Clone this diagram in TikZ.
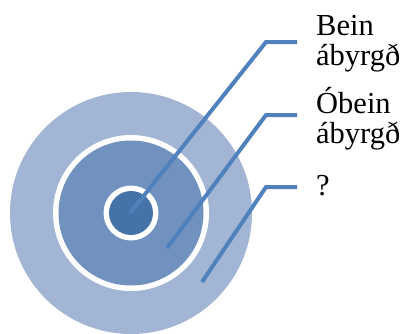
\documentclass[tikz,border=0pt]{standalone}
\usepackage{fontspec}
\setmainfont{Liberation Serif}
\usepackage{xcolor}
\usepackage{tikz}
\usetikzlibrary{positioning, arrows.meta, shapes}

\definecolor{ringout}{RGB}{163,181,212}
\definecolor{ringmid}{RGB}{113,146,191}
\definecolor{ringcore}{RGB}{69,114,168}
\definecolor{leader}{RGB}{79,129,189}

\begin{document}
\begin{tikzpicture}[
    x=1pt, y=-1pt,
    disc/.style={circle, draw=none, inner sep=0pt},
    leaderline/.style={draw=leader, line width=4pt},
    label/.style={font=\fontsize{30.5}{29.5}\selectfont, align=left, anchor=base west, inner sep=0pt}
]
\useasboundingbox (0,0) rectangle (404,333);

% target circles
\node[disc, fill=ringout, minimum size=242pt] (outer) at (131,213) {};
\node[disc, fill=white, minimum size=156pt] (gap1) at (131,213) {};
\node[disc, fill=ringmid, minimum size=145pt] (mid) at (131,213) {};
\node[disc, fill=white, minimum size=55pt] (gap2) at (131,213) {};
\node[disc, fill=ringcore, minimum size=44pt] (core) at (131,213) {};

% labels (anchored at the baseline of their last line)
\node[label] (direct) at (316,65) {Bein\\ábyrgð};
\node[label] (indirect) at (316,143) {Óbein\\ábyrgð};
\node[label] (unknown) at (316,195) {?};

% leader lines
\coordinate (s1) at (130,213);
\coordinate (s2) at (167,248);
\coordinate (s3) at (202,282);
\coordinate (k1) at (266,42);
\coordinate (k2) at (266,115);
\coordinate (k3) at (266,187);
\coordinate (e1) at (297,42);
\coordinate (e2) at (297,115);
\coordinate (e3) at (297,187);
\draw[leaderline] (s1) -- (k1) -- (e1);
\draw[leaderline] (s2) -- (k2) -- (e2);
\draw[leaderline] (s3) -- (k3) -- (e3);
\end{tikzpicture}
\end{document}
